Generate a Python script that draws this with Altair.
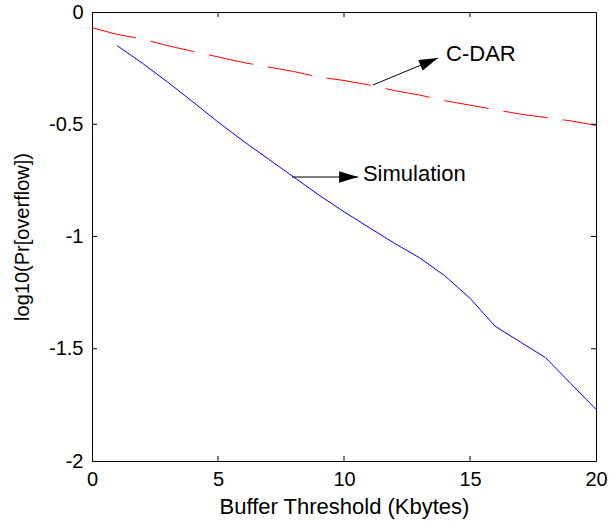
import altair as alt
import pandas as pd

# Data
cdar_x = list(range(0, 21))
cdar_y = [-0.07, -0.10, -0.12, -0.15, -0.175, -0.20, -0.225, -0.245, -0.265, -0.29, -0.305,
          -0.325, -0.35, -0.37, -0.395, -0.415, -0.435, -0.455, -0.47, -0.485, -0.505]
sim_x = list(range(1, 21))
sim_y = [-0.15, -0.228, -0.312, -0.40, -0.49, -0.575, -0.655, -0.735, -0.815, -0.89,
         -0.96, -1.03, -1.095, -1.175, -1.275, -1.40, -1.47, -1.54, -1.655, -1.77]

# Annotations (data units)
arrow_x1 = [11.15, 7.94]
arrow_y1 = [-0.325, -0.735]
arrow_x2 = [13.73, 10.56]
arrow_y2 = [-0.205, -0.735]
arrow_angle = [337.4, 0]
label_text = ["C-DAR", "Simulation"]
label_x = [14.05, 10.75]
label_y = [-0.185, -0.722]

x_ticks = [0, 5, 10, 15, 20]
y_ticks = [0, -0.5, -1, -1.5, -2]
x_inner = [5, 10, 15]
y_inner = [-0.5, -1, -1.5]

W, H = 504, 449
FONT = "Liberation Sans"

xs = alt.Scale(domain=[0, 20], nice=False, zero=False)
ys = alt.Scale(domain=[-2, 0], nice=False, zero=False)

cdar = pd.DataFrame({"x": cdar_x, "y": cdar_y})
sim = pd.DataFrame({"x": sim_x, "y": sim_y})
arrows = pd.DataFrame({"x1": arrow_x1, "y1": arrow_y1, "x2": arrow_x2, "y2": arrow_y2, "a": arrow_angle})
labels = pd.DataFrame({"t": label_text, "x": label_x, "y": label_y})
xin = pd.DataFrame({"v": x_inner})
yin = pd.DataFrame({"v": y_inner})

base_x = alt.X("x:Q", scale=xs, title="Buffer Threshold (Kbytes)",
               axis=alt.Axis(values=x_ticks, ticks=False, tickSize=0, grid=False,
                             labelFontSize=20, titleFontSize=22, labelPadding=8,
                             titlePadding=7, labelFont=FONT, titleFont=FONT,
                             titleFontWeight="normal", labelColor="black", titleColor="black",
                             domainColor="black", labelFlush=False))
base_y = alt.Y("y:Q", scale=ys, title="log10(Pr[overflow])",
               axis=alt.Axis(values=y_ticks, ticks=False, tickSize=0, grid=False,
                             labelExpr="'' + datum.value",
                             labelFontSize=20, titleFontSize=20, labelPadding=9,
                             titlePadding=16, labelFont=FONT, titleFont=FONT,
                             titleFontWeight="normal", labelColor="black", titleColor="black",
                             domainColor="black", labelFlush=False))

red = alt.Chart(cdar).mark_line(color="#ff0000", strokeWidth=1, strokeDash=[45, 15]).encode(
    x=base_x, y=base_y)
blue = alt.Chart(sim).mark_line(color="#0000ff", strokeWidth=1).encode(
    x=alt.X("x:Q", scale=xs), y=alt.Y("y:Q", scale=ys))

arrow_lines = alt.Chart(arrows).mark_rule(color="black", strokeWidth=1).encode(
    x=alt.X("x1:Q", scale=xs), y=alt.Y("y1:Q", scale=ys),
    x2="x2:Q", y2="y2:Q")
arrow_heads = alt.Chart(arrows).mark_point(
    shape="M 0 0 L -2 -0.6 L -2 0.6 Z", filled=True, color="black", size=361, opacity=1
).encode(x=alt.X("x2:Q", scale=xs), y=alt.Y("y2:Q", scale=ys), angle=alt.Angle("a:Q", scale=None))

texts = alt.Chart(labels).mark_text(align="left", baseline="middle", font=FONT, fontSize=22,
                                    color="black").encode(
    x=alt.X("x:Q", scale=xs), y=alt.Y("y:Q", scale=ys), text="t:N")

tick_bottom = alt.Chart(xin).mark_rule(color="black").encode(
    x=alt.X("v:Q", scale=xs), y=alt.value(H), y2=alt.value(H - 5))
tick_top = alt.Chart(xin).mark_rule(color="black").encode(
    x=alt.X("v:Q", scale=xs), y=alt.value(0), y2=alt.value(5))
tick_left = alt.Chart(yin).mark_rule(color="black").encode(
    y=alt.Y("v:Q", scale=ys), x=alt.value(0), x2=alt.value(5))
tick_right = alt.Chart(yin).mark_rule(color="black").encode(
    y=alt.Y("v:Q", scale=ys), x=alt.value(W), x2=alt.value(W - 5))

chart = alt.layer(red, blue, arrow_lines, arrow_heads, texts,
                  tick_bottom, tick_top, tick_left, tick_right).properties(
    width=W, height=H,
    autosize=alt.AutoSizeParams(type="none"),
    padding={"left": 92, "top": 12, "right": 14, "bottom": 62},
    background="white",
).configure_view(stroke="black", strokeWidth=1)

chart.save("out.html", embed_options={"renderer": "svg", "actions": False})
